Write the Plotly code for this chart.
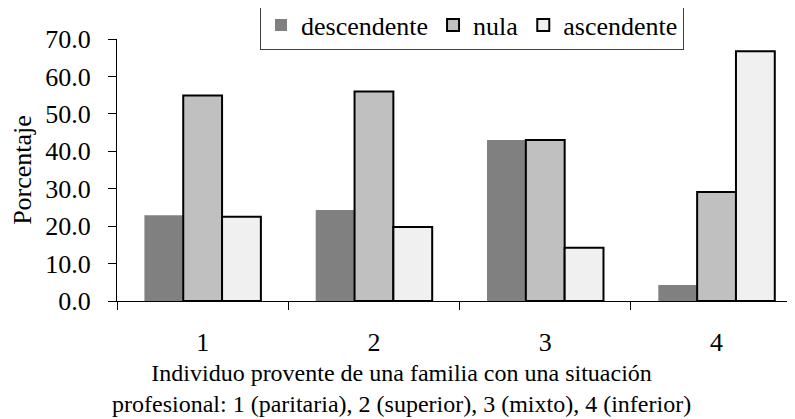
import plotly.graph_objects as go

categories = ["1", "2", "3", "4"]
descendente = [22.9, 24.3, 43.0, 4.3]
nula = [54.9, 56.0, 43.0, 29.1]
ascendente = [22.5, 19.8, 14.2, 66.7]
y_ticks = [0, 10, 20, 30, 40, 50, 60, 70]
x_title = "Individuo provente de una familia con una situación<br>profesional: 1 (paritaria), 2 (superior), 3 (mixto), 4 (inferior)"
y_title = "Porcentaje"

FONT = "'Liberation Serif', 'Times New Roman', Times, serif"

fig = go.Figure()
fig.add_trace(go.Bar(x=categories, y=descendente, name="descendente",
                     marker=dict(color="#808080", line=dict(width=0))))
fig.add_trace(go.Bar(x=categories, y=nula, name="nula",
                     marker=dict(color="#C0C0C0", line=dict(color="#000000", width=2))))
fig.add_trace(go.Bar(x=categories, y=ascendente, name="ascendente",
                     marker=dict(color="#F0F0F0", line=dict(color="#000000", width=2))))

# the page body adds an 8px offset, so the figure is laid out 8px smaller
OFF = 8
W, H = 795 - OFF, 419 - OFF
L, T = 117 - OFF, 39 - OFF
bottom = 301 - OFF
B = H - bottom
pw = W - L
ph = H - T - B

fig.update_layout(
    width=W, height=H,
    margin=dict(l=L, r=0, t=T, b=B, pad=0, autoexpand=False),
    paper_bgcolor="white", plot_bgcolor="white",
    barmode="group", bargap=0.32, bargroupgap=0,
    font=dict(family=FONT, size=26, color="#000000"),
    showlegend=True,
    legend=dict(orientation="h", x=(260 - OFF - L) / pw, xanchor="left",
                y=1 + (T - (25 - OFF)) / ph, yanchor="middle",
                bordercolor="#404040", borderwidth=1, bgcolor="white",
                font=dict(family=FONT, size=26), itemwidth=30,
                tracegroupgap=0),
    xaxis=dict(type="category", range=[-0.5, -0.5 + pw / 171.3],
               showline=True, linecolor="#000000", linewidth=1,
               ticks="outside", tickson="boundaries", ticklen=8,
               tickcolor="#000000", showgrid=False, zeroline=False,
               ticklabelstandoff=18,
               tickfont=dict(family=FONT, size=26)),
    yaxis=dict(range=[0, 70], tickvals=y_ticks, tickformat=".1f",
               showline=True, linecolor="#000000", linewidth=1,
               ticks="outside", ticklen=8, tickcolor="#000000",
               showgrid=False, zeroline=False, ticklabelstandoff=12,
               tickfont=dict(family=FONT, size=26),
               title=dict(text=y_title, font=dict(family=FONT, size=26), standoff=14)),
)

fig.add_annotation(text=x_title, xref="paper", yref="paper",
                   x=(401 - OFF - L) / pw, y=-(388 - OFF - (T + ph)) / ph,
                   xanchor="center", yanchor="middle", showarrow=False,
                   font=dict(family=FONT, size=24, color="#000000"))

fig.write_html("out.html")
